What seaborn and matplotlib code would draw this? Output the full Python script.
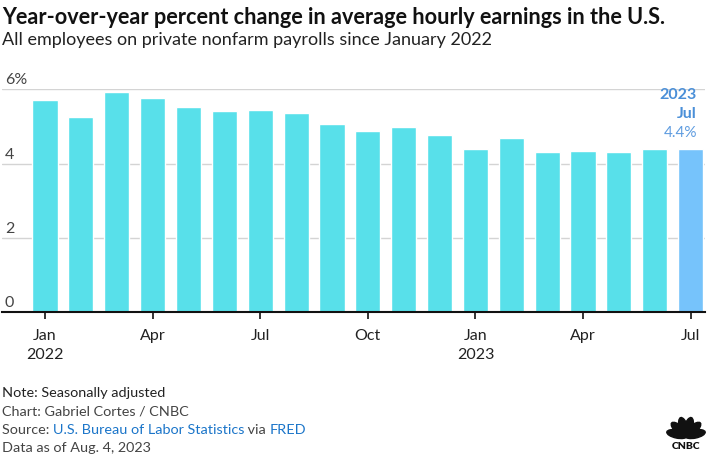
import matplotlib
matplotlib.use("Agg")
import matplotlib.pyplot as plt
import seaborn as sns
import numpy as np
from matplotlib.patches import Ellipse

# --------------------- Data ---------------------
months = ["Jan 2022", "Feb 2022", "Mar 2022", "Apr 2022", "May 2022", "Jun 2022",
          "Jul 2022", "Aug 2022", "Sep 2022", "Oct 2022", "Nov 2022", "Dec 2022",
          "Jan 2023", "Feb 2023", "Mar 2023", "Apr 2023", "May 2023", "Jun 2023",
          "Jul 2023"]
values = [5.71, 5.25, 5.93, 5.77, 5.52, 5.42, 5.44, 5.37, 5.07, 4.88, 4.99, 4.77,
          4.39, 4.69, 4.31, 4.34, 4.31, 4.39, 4.40]
tick_pos = [0, 3, 6, 9, 12, 15, 18]
tick_labels = ["Jan\n2022", "Apr", "Jul", "Oct", "Jan\n2023", "Apr", "Jul"]
y_ticks = [0, 2, 4, 6]
y_labels = ["0", "2", "4", "6%"]

# --------------------- Style ---------------------
sns.set_style("white")
plt.rcParams["font.family"] = ["Lato", "DejaVu Sans"]

W, H = 710, 457
fig = plt.figure(figsize=(W / 100, H / 100), dpi=100)
ax = fig.add_axes([2 / W, (H - 312.3) / H, 703 / W, 223 / H])

cyan = "#58E0EA"
blue = "#76C3FB"
palette = [cyan] * (len(months) - 1) + [blue]

sns.barplot(x=months, y=values, hue=months, palette=palette, legend=False,
            width=0.7, saturation=1, ax=ax, zorder=3)

ax.set_xlim(-1.2, 18.4)
ax.set_ylim(0, 6)

# grid lines + y labels sitting above them
for t, lab in zip(y_ticks, y_labels):
    if t > 0:
        ax.axhline(t, color="#d4d4d4", lw=1, zorder=1)
    ax.text(-1.12, t + 0.05, lab, fontsize=11.5, color="#444444", ha="left", va="bottom")
ax.set_yticks([])

for s in ["top", "right", "left"]:
    ax.spines[s].set_visible(False)
ax.spines["bottom"].set_color("#111111")
ax.spines["bottom"].set_linewidth(1.5)
ax.spines["bottom"].set_zorder(5)

ax.set_xticks(tick_pos)
ax.set_xticklabels(tick_labels, fontsize=11.5, color="#222222", linespacing=1.45)
ax.tick_params(axis="x", length=5, width=1.2, color="#111111", pad=7, bottom=True)
ax.set_xlabel("")
ax.set_ylabel("")

# --------------------- Annotation ---------------------
fig.text(697 / W, 1 - 95 / H, "2023", ha="right", va="center", fontsize=11.5,
         fontweight="bold", color="#4A8FD8")
fig.text(697 / W, 1 - 114 / H, "Jul", ha="right", va="center", fontsize=11.5,
         fontweight="bold", color="#4A8FD8")
fig.text(697 / W, 1 - 133 / H, f"{values[-1]:.1f}%", ha="right", va="center",
         fontsize=11, color="#5E9CE0")

# --------------------- Titles ---------------------
fig.text(2 / W, 1 - 17 / H, "Year-over-year percent change in average hourly earnings in the U.S.",
         ha="left", va="center", fontsize=15.6, fontweight="bold", color="#111111")
fig.text(2 / W, 1 - 40 / H, "All employees on private nonfarm payrolls since January 2022",
         ha="left", va="center", fontsize=13, color="#222222")

# --------------------- Footer ---------------------
fs = 10.4
fig.text(2 / W, 1 - 393 / H, "Note: Seasonally adjusted", ha="left", va="center",
         fontsize=fs, color="#222222")
fig.text(2 / W, 1 - 412 / H, "Chart: Gabriel Cortes / CNBC", ha="left", va="center",
         fontsize=fs, color="#444444")
t1 = fig.text(2 / W, 1 - 430 / H, "Source: ", ha="left", va="center", fontsize=fs, color="#444444")
fig.canvas.draw()
r = fig.canvas.get_renderer()
x = 2 + t1.get_window_extent(r).width
for part, col in [("U.S. Bureau of Labor Statistics", "#1B75C9"), (" via ", "#444444"),
                  ("FRED", "#1B75C9")]:
    tt = fig.text(x / W, 1 - 430 / H, part, ha="left", va="center", fontsize=fs, color=col)
    x += tt.get_window_extent(r).width
fig.text(2 / W, 1 - 448 / H, "Data as of Aug. 4, 2023", ha="left", va="center",
         fontsize=fs, color="#444444")

# --------------------- Logo ---------------------
lax = fig.add_axes([666 / W, (H - 450) / H, 40 / W, 34 / H])
lax.set_xlim(-1.2, 1.2)
lax.set_ylim(-0.75, 1.35)
lax.axis("off")
for ang in np.linspace(12, 168, 6):
    a = np.deg2rad(ang)
    lax.add_patch(Ellipse((0.55 * np.cos(a), 0.12 + 0.55 * np.sin(a)), 0.5, 1.25,
                          angle=ang - 90, color="#111111"))
lax.text(0, -0.55, "CNBC", ha="center", va="center", fontsize=7.5,
         fontweight="heavy", color="#111111")

fig.savefig("out.png", dpi=100)
plt.close()
